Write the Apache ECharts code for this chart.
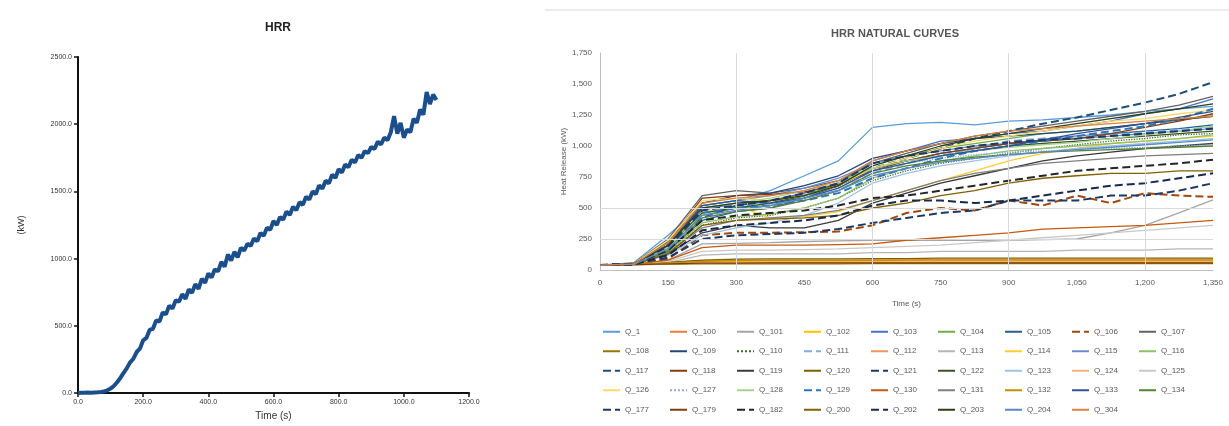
<!DOCTYPE html>
<html>
<head>
<meta charset="utf-8">
<script src="https://cdn.jsdelivr.net/npm/echarts@6/dist/echarts.min.js"></script>
<style>
  html, body { margin: 0; padding: 0; background: #fff; }
  #chart { width: 1229px; height: 426px; }
</style>
</head>
<body>
<div id="chart"></div>
<script>
// left chart: HRR, one value every 10 s
const hrrStep = 10;
const hrrValues = [0,2,1,3,2,4,5,8,12,20,33,52,80,112,150,185,228,255,305,330,392,410,470,478,540,532,600,585,650,628,690,680,735,700,770,745,810,775,850,820,890,860,920,905,975,940,1030,985,1050,1010,1080,1060,1110,1095,1150,1130,1190,1170,1230,1215,1280,1250,1310,1290,1350,1325,1385,1360,1420,1400,1460,1440,1500,1480,1545,1520,1580,1560,1625,1600,1665,1640,1700,1680,1735,1715,1770,1750,1800,1785,1830,1815,1870,1850,1900,1880,1940,2060,1930,2010,1900,1960,1940,2040,2010,2110,2070,2240,2150,2220,2180];
const hrrXTicks = [0, 200, 400, 600, 800, 1000, 1200];
const hrrYTicks = [0, 500, 1000, 1500, 2000, 2500];

// right chart: natural curves
const curveTimes = [0,75,150,225,300,375,450,525,600,675,750,825,900,975,1050,1125,1200,1275,1350];
const curveNames = [
  'Q_1','Q_100','Q_101','Q_102','Q_103','Q_104','Q_105','Q_106','Q_107',
  'Q_108','Q_109','Q_110','Q_111','Q_112','Q_113','Q_114','Q_115','Q_116',
  'Q_117','Q_118','Q_119','Q_120','Q_121','Q_122','Q_123','Q_124','Q_125',
  'Q_126','Q_127','Q_128','Q_129','Q_130','Q_131','Q_132','Q_133','Q_134',
  'Q_177','Q_179','Q_182','Q_200','Q_202','Q_203','Q_204','Q_304'
];
const curveValues = [
  [40,60,280,520,560,640,760,880,1150,1180,1190,1170,1200,1210,1230,1250,1280,1300,1320],
  [40,45,50,55,60,60,60,60,60,60,60,60,60,60,60,60,60,60,60],
  [40,45,80,210,215,220,230,235,240,240,240,240,240,245,250,300,360,460,565],
  [40,45,55,65,70,70,70,70,70,72,72,72,72,72,72,72,72,72,72],
  [40,50,230,480,540,560,620,700,880,960,1040,1060,1100,1120,1160,1200,1260,1300,1380],
  [40,45,180,440,500,520,600,700,860,920,980,1020,1060,1100,1120,1150,1180,1210,1240],
  [40,45,160,400,470,500,580,680,820,880,940,980,1020,1050,1080,1100,1120,1140,1170],
  [40,45,90,280,300,300,305,310,360,460,500,480,560,520,600,540,620,600,590],
  [40,55,250,600,640,620,660,720,860,940,1020,1080,1120,1160,1200,1240,1280,1330,1400],
  [40,42,48,50,50,50,50,50,52,52,52,52,52,52,52,52,52,52,52],
  [40,50,200,540,600,620,680,760,900,960,1020,1060,1080,1100,1120,1150,1180,1210,1240],
  [40,45,140,360,420,440,500,580,720,800,860,900,940,980,1010,1040,1060,1090,1100],
  [40,50,210,500,520,540,580,640,780,860,920,980,1040,1060,1080,1090,1110,1130,1150],
  [40,45,60,75,80,80,80,80,82,82,85,85,85,85,85,85,85,85,85],
  [40,45,60,120,130,130,130,130,140,140,150,150,150,150,160,160,160,170,170],
  [40,45,170,460,520,420,430,470,560,640,720,800,880,940,980,1020,1040,1060,1080],
  [40,50,190,520,560,600,660,740,860,920,960,1000,1020,1040,1060,1080,1100,1120,1140],
  [40,45,150,380,430,450,500,580,740,820,880,920,960,980,1000,1020,1040,1060,1090],
  [40,45,200,420,520,560,600,680,820,900,980,1060,1120,1180,1230,1290,1350,1420,1515],
  [40,48,220,580,600,610,630,690,800,880,940,980,1020,1040,1060,1100,1150,1200,1260],
  [40,45,130,300,360,340,340,400,540,620,700,760,820,880,920,950,980,1000,1020],
  [40,45,62,80,88,90,90,90,92,92,95,95,95,95,95,95,95,95,95],
  [40,45,100,250,280,290,300,330,380,420,460,480,560,560,560,600,600,640,700],
  [40,50,200,460,500,540,600,680,820,880,920,960,1000,1020,1040,1060,1080,1100,1120],
  [40,45,120,280,340,380,440,540,700,780,840,880,920,950,980,1000,1020,1040,1060],
  [40,44,52,58,62,65,65,66,66,66,68,68,68,68,68,68,68,68,68],
  [40,45,70,150,160,160,165,170,180,190,200,220,240,260,280,300,320,340,360],
  [40,52,240,560,580,560,600,680,820,900,980,1040,1080,1120,1160,1200,1220,1260,1290],
  [40,45,160,420,480,520,580,660,800,860,900,930,950,960,970,980,990,1000,1010],
  [40,45,180,500,540,580,640,700,820,880,920,960,990,1010,1030,1060,1090,1120,1160],
  [40,48,210,460,500,520,560,620,740,820,900,960,1000,1040,1080,1120,1160,1220,1300],
  [40,45,80,180,200,200,200,205,210,240,260,280,300,330,340,350,360,380,400],
  [40,45,140,340,400,420,440,480,560,640,720,780,820,860,880,900,920,930,940],
  [40,46,58,70,76,78,78,78,78,80,80,80,80,80,80,80,80,80,80],
  [40,50,200,520,560,540,580,660,800,860,920,960,1000,1050,1100,1140,1180,1230,1280],
  [40,45,150,420,470,500,560,640,780,840,880,910,930,950,960,970,980,990,1000],
  [40,50,190,480,520,560,620,700,860,920,960,1000,1030,1050,1060,1080,1100,1120,1140],
  [40,43,50,55,56,57,58,58,58,58,58,58,58,58,58,58,58,58,58],
  [40,45,160,400,440,460,480,520,580,600,640,680,720,760,800,820,840,860,890],
  [40,45,130,360,400,410,420,440,500,540,600,640,700,740,760,780,780,800,800],
  [40,45,120,320,360,380,400,440,520,560,560,540,560,600,640,680,700,740,780],
  [40,50,200,500,540,560,600,680,840,920,1000,1060,1100,1140,1180,1220,1260,1300,1340],
  [40,45,170,440,480,520,580,640,760,820,870,900,930,950,970,990,1010,1030,1050],
  [40,50,220,540,580,600,640,720,880,960,1020,1080,1120,1140,1160,1180,1200,1220,1240]
];
const curveXTicks = [0, 150, 300, 450, 600, 750, 900, 1050, 1200, 1350];
const curveYTicks = [0, 250, 500, 750, 1000, 1250, 1500, 1750];
const gridTimes = [300, 600, 900, 1200];
const gridLevels = [250, 500];

const palette = [
  '#5B9BD5','#ED7D31','#A5A5A5','#FFC000','#4472C4','#70AD47',
  '#255E91','#9E480E','#636363','#997300','#264478','#43682B',
  '#7CAFDD','#F1975A','#B7B7B7','#FFCD33','#698ED0','#8CC168',
  '#1F4E79','#843C0C','#3A3A3A','#7F6000','#203864','#375623',
  '#9DC3E6','#F4B183','#C9C9C9','#FFD966','#8FAADC','#A9D18E',
  '#2E75B6','#C55A11','#7F7F7F','#BF9000','#2F5597','#548235',
  '#1F3864','#7F3F0C','#262626','#806000','#162A4B','#2A4118',
  '#5A8AC6','#D9813F'
];
const dashedIdx = [7, 12, 18, 22, 30, 36, 38, 40];
const dottedIdx = [11, 28];

const chart = echarts.init(document.getElementById('chart'));
const font = 'Liberation Sans, Arial, sans-serif';

const curveSeries = curveValues.map(function (vals, i) {
  return {
    name: curveNames[i],
    type: 'line',
    xAxisIndex: 1,
    yAxisIndex: 1,
    symbol: 'none',
    z: 3,
    lineStyle: {
      color: palette[i],
      width: dashedIdx.indexOf(i) >= 0 ? 2 : 1.3,
      type: dashedIdx.indexOf(i) >= 0 ? 'dashed' : (dottedIdx.indexOf(i) >= 0 ? 'dotted' : 'solid')
    },
    itemStyle: { color: palette[i] },
    data: curveTimes.map(function (t, k) { return [t, vals[k]]; })
  };
});

const option = {
  animation: false,
  textStyle: { fontFamily: font },
  title: [
    { text: 'HRR', left: 273, top: 17, textAlign: 'center',
      textStyle: { fontSize: 12, fontWeight: 'bold', color: '#222', fontFamily: font } },
    { text: 'HRR NATURAL CURVES', left: 890, top: 23, textAlign: 'center',
      textStyle: { fontSize: 11, fontWeight: 'bold', color: '#555', fontFamily: font } }
  ],
  graphic: [
    { type: 'line', shape: { x1: 545, y1: 10, x2: 1229, y2: 10 },
      style: { stroke: '#d9d9d9', lineWidth: 1 } }
  ],
  legend: {
    data: curveNames,
    left: 597,
    top: 320,
    width: 600,
    itemWidth: 17,
    itemHeight: 10,
    itemGap: 6,
    itemStyle: { opacity: 0 },
    formatter: '{n|{name}}',
    textStyle: {
      fontSize: 8, color: '#595959', fontFamily: font,
      rich: { n: { width: 38, height: 13.5, lineHeight: 13.5, fontSize: 8, color: '#595959' } }
    }
  },
  grid: [
    { left: 78, right: 760, top: 57, bottom: 31 },
    { left: 600, right: 16, top: 53, bottom: 156 }
  ],
  xAxis: [
    {
      type: 'value', gridIndex: 0,
      min: hrrXTicks[0], max: hrrXTicks[hrrXTicks.length - 1], interval: 200,
      name: 'Time (s)', nameLocation: 'middle', nameGap: 18,
      nameTextStyle: { fontSize: 10, color: '#333' },
      axisLine: { lineStyle: { color: '#111', width: 2 } },
      axisTick: { show: true, length: 4, lineStyle: { color: '#111', width: 1.5 } },
      axisLabel: { fontSize: 7, color: '#333', margin: 6, formatter: function (v) { return v.toFixed(1); } },
      splitLine: { show: false }
    },
    {
      type: 'value', gridIndex: 1,
      min: curveXTicks[0], max: curveXTicks[curveXTicks.length - 1], interval: 150,
      name: 'Time (s)', nameLocation: 'middle', nameGap: 30,
      nameTextStyle: { fontSize: 8, color: '#595959' },
      axisLine: { lineStyle: { color: '#bfbfbf', width: 1 } },
      axisTick: { show: false },
      axisLabel: { fontSize: 8, color: '#595959', margin: 9 },
      splitLine: { show: false }
    }
  ],
  yAxis: [
    {
      type: 'value', gridIndex: 0,
      min: hrrYTicks[0], max: hrrYTicks[hrrYTicks.length - 1], interval: 500,
      name: '(kW)', nameLocation: 'middle', nameGap: 52, nameRotate: 90,
      nameTextStyle: { fontSize: 9, color: '#333' },
      axisLine: { show: true, lineStyle: { color: '#111', width: 2 } },
      axisTick: { show: true, length: 4, lineStyle: { color: '#111', width: 1.5 } },
      axisLabel: { fontSize: 7, color: '#333', margin: 6, formatter: function (v) { return v.toFixed(1); } },
      splitLine: { show: false }
    },
    {
      type: 'value', gridIndex: 1,
      min: curveYTicks[0], max: curveYTicks[curveYTicks.length - 1], interval: 250,
      name: 'Heat Release (kW)', nameLocation: 'middle', nameGap: 28, nameRotate: 90,
      nameTextStyle: { fontSize: 8, color: '#595959' },
      axisLine: { show: true, lineStyle: { color: '#bfbfbf', width: 1 } },
      axisTick: { show: false },
      axisLabel: { fontSize: 8, color: '#595959', margin: 8 },
      splitLine: { show: false }
    }
  ],
  series: [
    {
      name: 'HRR',
      type: 'line',
      xAxisIndex: 0,
      yAxisIndex: 0,
      symbol: 'none',
      lineStyle: { color: '#1b4f8c', width: 4 },
      data: hrrValues.map(function (v, i) { return [i * hrrStep, v]; })
    },
    {
      name: 'grid',
      type: 'line',
      xAxisIndex: 1,
      yAxisIndex: 1,
      symbol: 'none',
      z: 1,
      data: [],
      markLine: {
        silent: true,
        symbol: 'none',
        label: { show: false },
        lineStyle: { color: '#d9d9d9', width: 1, type: 'solid' },
        data: gridTimes.map(function (t) { return { xAxis: t }; })
          .concat(gridLevels.map(function (v) { return { yAxis: v }; }))
      }
    }
  ].concat(curveSeries)
};

chart.setOption(option);
</script>
</body>
</html>
